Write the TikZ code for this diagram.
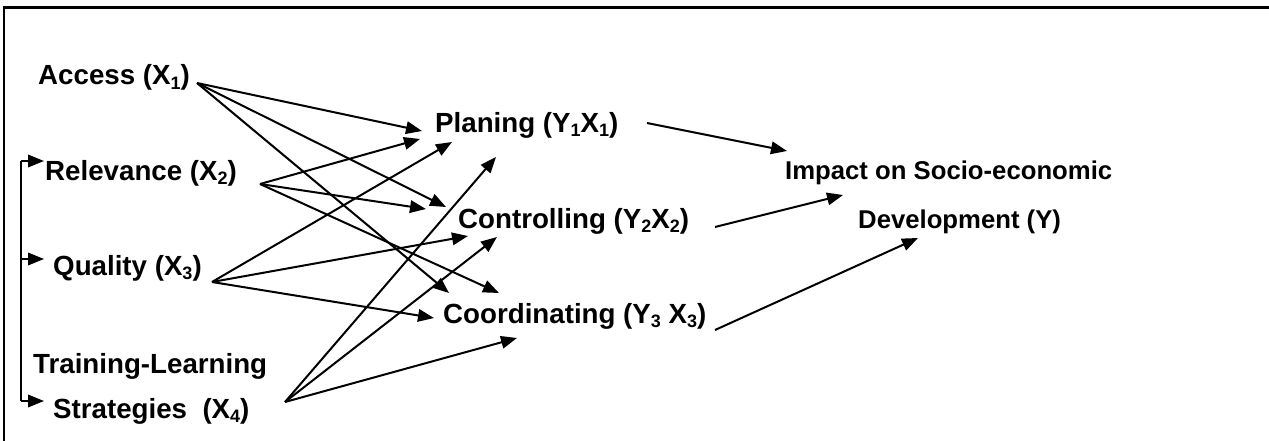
\documentclass[tikz,border=0pt]{standalone}
\usepackage{fontspec}
\setmainfont{Liberation Sans}
\usetikzlibrary{arrows.meta}
% lowered, smaller digits for the variable indices
\newcommand\subtxt[1]{\raisebox{-0.16em}{\fontsize{18}{18}\selectfont #1}}

\begin{document}
\begin{tikzpicture}[x=1pt,y=-1pt,
  lbl/.style={inner sep=0pt, anchor=base west, font=\fontsize{27.7}{32}\selectfont\bfseries},
  outlbl/.style={inner sep=0pt, anchor=base west, font=\fontsize{25.7}{30}\selectfont\bfseries},
  link/.style={line width=2pt, -{Triangle[length=16pt,width=12.5pt]}},
  brace/.style={line width=2pt}]
\useasboundingbox (0,0) rectangle (1269,441);

% frame
\draw[line width=2pt] (3.5,441) -- (3.5,7.5);
\draw[line width=3.2pt] (2.5,7.5) -- (1269,7.5);

% independent variables
\node[lbl] (acc) at (38,85) {Access (X\subtxt{1})};
\node[lbl] (rel) at (45,180) {Relevance (X\subtxt{2})};
\node[lbl] (qual) at (53,275) {Quality (X\subtxt{3})};
\node[lbl] (train) at (33,373) {Training-Learning};
\node[lbl] (strat) at (53,418) {Strategies\ \ (X\subtxt{4})};

% intermediate variables
\node[lbl] (plan) at (435,132) {Planing (Y\subtxt{1}X\subtxt{1})};
\node[lbl] (ctrl) at (458,228) {Controlling (Y\subtxt{2}X\subtxt{2})};
\node[lbl] (coord) at (443,323) {Coordinating (Y\subtxt{3} X\subtxt{3})};

% outcome
\node[outlbl] (imp) at (785,179) {Impact on Socio-economic};
\node[outlbl] (dev) at (858,228) {Development (Y)};

% connector end points around the labels
\coordinate (accO) at (197,83);
\coordinate (relO) at (260,184);
\coordinate (qualO) at (212,282);
\coordinate (stratO) at (285,402);

\coordinate (planA) at (422,131);
\coordinate (planB) at (420,139);
\coordinate (planC) at (452,142);
\coordinate (planD) at (496,157);
\coordinate (planO) at (647,123);

\coordinate (ctrlA) at (446,207);
\coordinate (ctrlB) at (426,209);
\coordinate (ctrlC) at (468,236);
\coordinate (ctrlD) at (497,237);
\coordinate (ctrlO) at (715,227);

\coordinate (coordA) at (449,293);
\coordinate (coordB) at (499,293);
\coordinate (coordC) at (434,318);
\coordinate (coordD) at (517,338);
\coordinate (coordO) at (715,330);

\coordinate (impA) at (787,151);
\coordinate (impB) at (843,195);
\coordinate (devA) at (918,238);

% bracket feeding the left column
\coordinate (brTop) at (21,161);
\coordinate (brMid) at (21,259);
\coordinate (brBot) at (21,401);
\coordinate (tipRel) at (44,161);
\coordinate (tipQual) at (44,259);
\coordinate (tipStrat) at (44,401);
\draw[brace] (brBot) -- (brTop);
\draw[link] (brTop) -- (tipRel);
\draw[link] (brMid) -- (tipQual);
\draw[link] (brBot) -- (tipStrat);

% X -> Y_i links
\draw[link] (accO) -- (planA);
\draw[link] (accO) -- (ctrlA);
\draw[link] (accO) -- (coordA);
\draw[link] (relO) -- (planB);
\draw[link] (relO) -- (ctrlB);
\draw[link] (relO) -- (coordB);
\draw[link] (qualO) -- (planC);
\draw[link] (qualO) -- (ctrlC);
\draw[link] (qualO) -- (coordC);
\draw[link] (stratO) -- (planD);
\draw[link] (stratO) -- (ctrlD);
\draw[link] (stratO) -- (coordD);

% Y_i -> Y links
\draw[link] (planO) -- (impA);
\draw[link] (ctrlO) -- (impB);
\draw[link] (coordO) -- (devA);
\end{tikzpicture}
\end{document}
